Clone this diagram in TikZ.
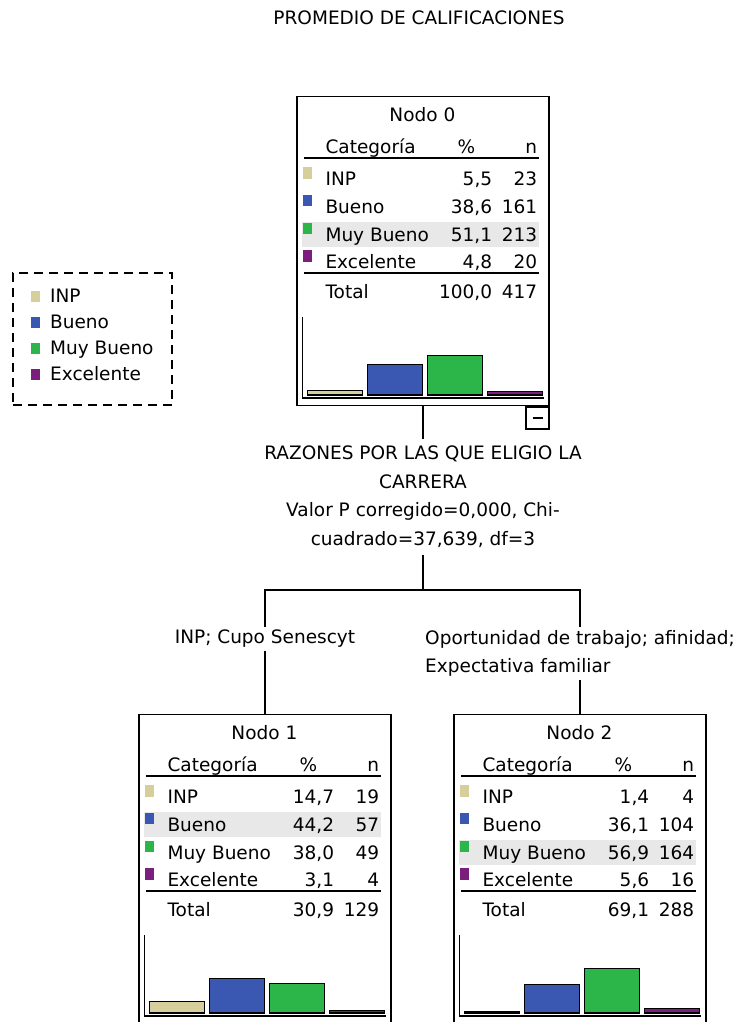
\documentclass[tikz,border=0pt]{standalone}
\usepackage{fontspec}
\setmainfont{DejaVu Sans}

\definecolor{cat1}{RGB}{214,207,155}
\definecolor{cat2}{RGB}{58,88,178}
\definecolor{cat3}{RGB}{44,182,74}
\definecolor{cat4}{RGB}{122,31,125}
\definecolor{marca}{RGB}{232,232,232}

\pgfkeys{/pgf/number format/.cd,fixed,fixed zerofill,precision=1,use comma,assume math mode=true}

\tikzset{
  caja/.style={draw, line width=1.3pt, minimum width=252pt, minimum height=309pt, anchor=north},
  regla/.style={line width=1.6pt},
  barra/.style={draw=black, line width=1.2pt},
  eje/.style={line width=1.3pt},
  rama/.style={line width=1.3pt},
  leyenda/.style={draw, line width=1.3pt, dash pattern=on 9pt off 6pt, minimum width=159pt, minimum height=132pt}
}

\newcommand{\catname}[1]{\ifcase#1\or INP\or Bueno\or Muy Bueno\or Excelente\fi}

% #1 nombre, #2 posicion, #3 titulo, #4 fila marcada, #5 filas, #6 total %, #7 total n
\newcommand{\nodo}[7]{%
  \node[caja] (#1) at (#2) {};
  \begin{scope}[shift={(#1.north west)}]
    \fill[marca] (6,{62+27.7*#4-19}) rectangle (243,{62+27.7*#4+6});
    \node[anchor=base] (#1-tit) at (126,25.5) {#3};
    \node[anchor=base west] (#1-cat) at (29,57.5) {Categoría};
    \node[anchor=base] (#1-pc) at (170,57.5) {\%};
    \node[anchor=base east] (#1-n) at (241,57.5) {n};
    \draw[regla] (8,62) -- (243,62);
    \foreach \p/\n [count=\i] in {#5} {
      \fill[cat\i] (7,{62+27.7*\i-18.5}) rectangle (16,{62+27.7*\i-7});
      \node[anchor=base west] (#1-c\i) at (29,{62+27.7*\i}) {\catname{\i}};
      \node[anchor=base east] (#1-p\i) at (196,{62+27.7*\i}) {\pgfmathprintnumber{\p}};
      \node[anchor=base east] (#1-n\i) at (241,{62+27.7*\i}) {\n};
      \draw[barra,fill=cat\i] ({11+60*(\i-1)},299) rectangle ++(55.5,{-0.78*\p});
    }
    \draw[regla] (8,177) -- (243,177);
    \node[anchor=base west] (#1-tot) at (29,202.5) {Total};
    \node[anchor=base east] (#1-tp) at (196,202.5) {\pgfmathprintnumber{#6}};
    \node[anchor=base east] (#1-tn) at (241,202.5) {#7};
    \draw[eje] (6,221) -- (6,302) -- (248,302);
  \end{scope}
}

\begin{document}
\begin{tikzpicture}[x=1pt, y=-1pt, every node/.style={font=\fontsize{18.5}{28.5}\selectfont, inner sep=0pt}]
\useasboundingbox (0,0) rectangle (738,1022);

\node[anchor=base] (titulo) at (419,24.5) {PROMEDIO DE CALIFICACIONES};

\node[leyenda] (ley) at (92.5,339) {};
\foreach \i in {1,...,4} {
  \fill[cat\i] (31,{291+26*(\i-1)}) rectangle (40,{302+26*(\i-1)});
  \node[anchor=base west] (ley-\i) at (50,{302.5+26*(\i-1)}) {\catname{\i}};
}

\nodo{n0}{423,96}{Nodo 0}{3}{5.5/23, 38.6/161, 51.1/213, 4.8/20}{100.0}{417}
\nodo{n1}{265,714}{Nodo 1}{2}{14.7/19, 44.2/57, 38.0/49, 3.1/4}{30.9}{129}
\nodo{n2}{580,714}{Nodo 2}{3}{1.4/4, 36.1/104, 56.9/164, 5.6/16}{69.1}{288}

\node[draw, line width=1.2pt, minimum width=23pt, minimum height=22pt, anchor=north east] (n0-menos) at (n0.south east) {\rule{10pt}{1.4pt}};

\node[anchor=north, align=center, inner ysep=7pt] (div) at (423,439)
  {RAZONES POR LAS QUE ELIGIO LA\\CARRERA\\Valor P corregido=0,000, Chi-\\cuadrado=37,639, df=3};
\coordinate (split) at (423,590);

\node[anchor=north, inner ysep=3pt] (e1) at (265,627) {INP; Cupo Senescyt};
\node[anchor=north, inner ysep=3pt, align=left] (e2) at (580,627)
  {Oportunidad de trabajo; afinidad;\\Expectativa familiar};

\draw[rama] (n0.south) -- (div.north);
\draw[rama] (div.south) -- (split);
\draw[rama] (e1.north) |- (split) -| (e2.north);
\draw[rama] (e1.south) -- (n1.north);
\draw[rama] (e2.south) -- (n2.north);

\end{tikzpicture}
\end{document}
